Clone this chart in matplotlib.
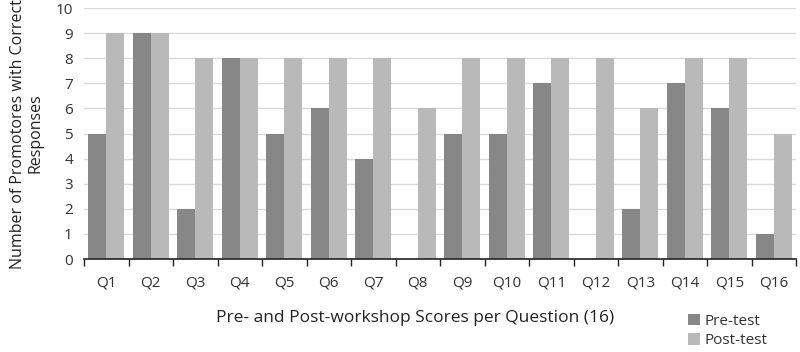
import matplotlib
matplotlib.use("Agg")
import matplotlib.pyplot as plt
import numpy as np

categories = ["Q1", "Q2", "Q3", "Q4", "Q5", "Q6", "Q7", "Q8", "Q9", "Q10",
              "Q11", "Q12", "Q13", "Q14", "Q15", "Q16"]
pre_test = [5, 9, 2, 8, 5, 6, 4, 0, 5, 5, 7, 0, 2, 7, 6, 1]
post_test = [9, 9, 8, 8, 8, 8, 8, 6, 8, 8, 8, 8, 6, 8, 8, 5]
y_ticks = list(range(0, 11))

plt.rcParams['font.family'] = ['Open Sans', 'DejaVu Sans']

fig = plt.figure(figsize=(8, 3.52), dpi=100)
ax = fig.add_axes([0.105, 0.264, 0.890, 0.713])

x = np.arange(len(categories))
w = 0.41
ax.bar(x - w / 2, pre_test, width=w, color="#878787", label="Pre-test", zorder=2)
ax.bar(x + w / 2, post_test, width=w, color="#b9b9b9", label="Post-test", zorder=2)

ax.set_xlim(-0.5, len(categories) - 0.5)
ax.set_ylim(0, 10)
ax.set_yticks(y_ticks)
ax.yaxis.grid(True, color="#d9d9d9", linewidth=1, zorder=0)
ax.set_axisbelow(True)

ax.set_xticks(x)
ax.set_xticklabels(categories)
ax.set_xticks(np.arange(-0.5, len(categories), 1.0), minor=True)
ax.tick_params(axis="x", which="major", length=0, pad=12, labelsize=11, colors="#333333")
ax.tick_params(axis="x", which="minor", length=5, width=1, color="#222222", direction="out")
ax.tick_params(axis="y", length=0, labelsize=11, pad=8, colors="#333333")

for s in ["top", "right", "left"]:
    ax.spines[s].set_visible(False)
ax.spines["bottom"].set_color("#222222")
ax.spines["bottom"].set_linewidth(1.2)

ax.set_ylabel("Number of Promotores with Correct\nResponses", fontsize=11.5, color="#222222",
              labelpad=9, linespacing=1.05)

fig.text(415 / 800, 1 - 318 / 352, "Pre- and Post-workshop Scores per Question (16)",
         ha="center", va="center", fontsize=12.5, color="#222222")

leg = fig.legend(loc="center left", bbox_to_anchor=(674 / 800, 1 - 331 / 352), frameon=False,
                 fontsize=11, handlelength=0.8, handleheight=0.8, handletextpad=0.3,
                 labelspacing=0.3)
for t in leg.get_texts():
    t.set_color("#333333")

fig.savefig("out.png", dpi=100)
